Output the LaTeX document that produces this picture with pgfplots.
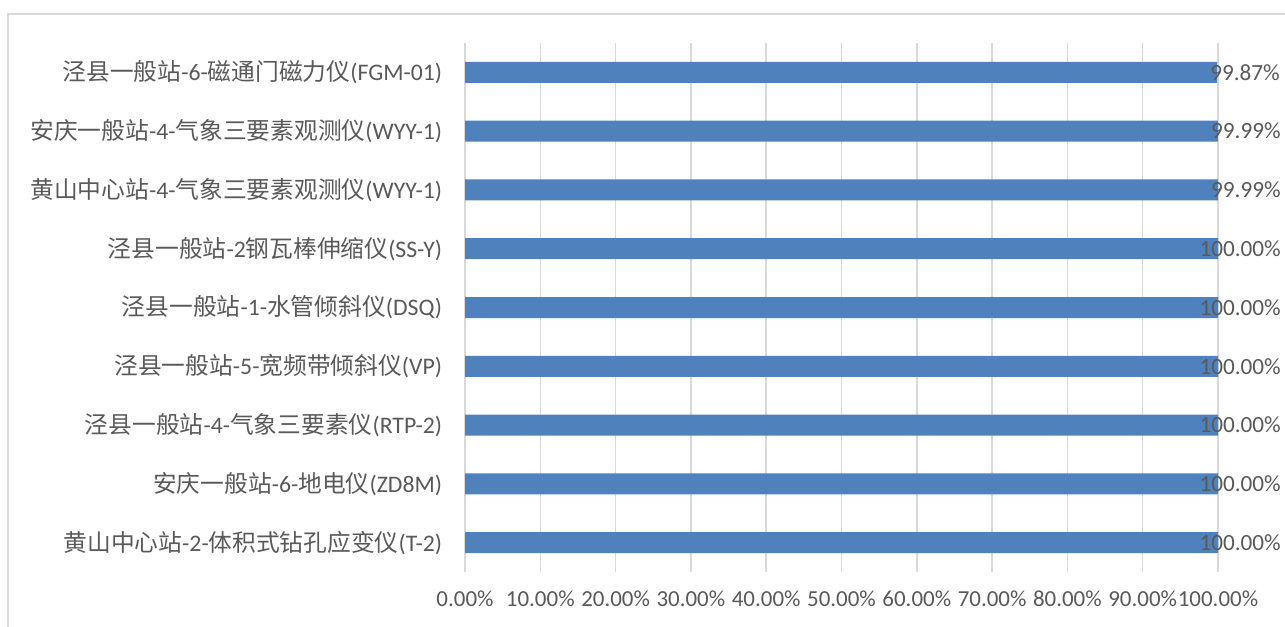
\documentclass[border=0pt]{standalone}
\usepackage{pgfplots}
\pgfplotsset{compat=1.18}
\usepackage{fontspec}
\setmainfont{Carlito}
\newfontfamily\cjk{Noto Sans CJK SC}
\newcommand\C[1]{{\cjk #1}}
\definecolor{barblue}{HTML}{4F81BD}
\definecolor{txt}{HTML}{595959}
\definecolor{gridc}{HTML}{D9D9D9}
\begin{document}
\begin{tikzpicture}
\useasboundingbox (0,0) rectangle (963.75pt,469.5pt);
\draw[gridc, line width=1.2pt] (6pt,-5pt) -- (6pt,459pt) -- (975pt,459pt);
\begin{axis}[
  at={(348.75pt,40.5pt)}, anchor=south west,
  scale only axis, width=564.75pt, height=396.75pt,
  xbar, bar width=15.75pt,
  xmin=0, xmax=100, ymin=-0.5, ymax=8.5,
  xtick={0,10,...,100}, ytick={0,...,8},
  yticklabels={
    {\C{黄山中心站}-2-\C{体积式钻孔应变仪}(T-2)},
    {\C{安庆一般站}-6-\C{地电仪}(ZD8M)},
    {\C{泾县一般站}-4-\C{气象三要素仪}(RTP-2)},
    {\C{泾县一般站}-5-\C{宽频带倾斜仪}(VP)},
    {\C{泾县一般站}-1-\C{水管倾斜仪}(DSQ)},
    {\C{泾县一般站}-2\C{钢瓦棒伸缩仪}(SS-Y)},
    {\C{黄山中心站}-4-\C{气象三要素观测仪}(WYY-1)},
    {\C{安庆一般站}-4-\C{气象三要素观测仪}(WYY-1)},
    {\C{泾县一般站}-6-\C{磁通门磁力仪}(FGM-01)}
  },
  xticklabel={\pgfmathprintnumber[fixed,fixed zerofill,precision=2]{\tick}\%},
  /pgf/number format/assume math mode=true,
  axis line style={draw=none},
  major tick length=0pt,
  xmajorgrids, major grid style={gridc, line width=1.1pt},
  tick label style={font=\fontsize{17.2pt}{20pt}\selectfont, text=txt},
  yticklabel style={anchor=east, inner sep=0pt, xshift=-17pt, font=\fontsize{17.8pt}{20pt}\selectfont},
  xticklabel style={anchor=north, inner sep=0pt, yshift=-14pt},
  nodes near coords={\pgfmathprintnumber[fixed,fixed zerofill,precision=2]{\pgfplotspointmeta}\%},
  point meta=x,
  every node near coord/.style={anchor=east, xshift=47.25pt, inner sep=0pt, font=\fontsize{17.4pt}{20pt}\selectfont, text=txt},
  clip=false,
]
\addplot[fill=barblue, draw=none] coordinates {
  (100,0) (100,1) (100,2) (100,3) (100,4) (100,5) (99.99,6) (99.99,7) (99.87,8)
};
\end{axis}
\end{tikzpicture}
\end{document}
